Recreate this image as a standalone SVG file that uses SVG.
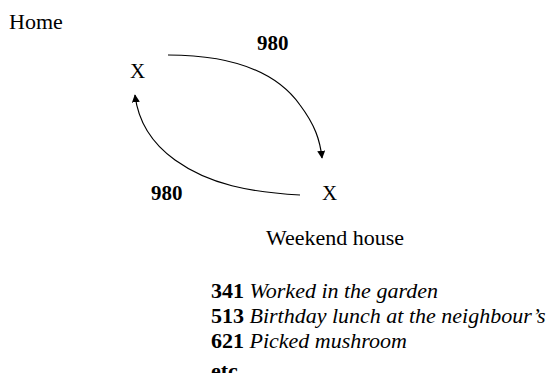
<svg xmlns="http://www.w3.org/2000/svg" width="551" height="373" viewBox="0 0 551 373">
<style>
text{font-family:"Liberation Serif","Times New Roman",serif;font-size:22px;fill:#000}
.b{font-weight:bold}
.i{font-style:italic}
.n{font-size:21px}
.c{fill:none;stroke:#000;stroke-width:1.2}
</style>
<defs>
<marker id="ah" viewBox="0 0 10 10" refX="9" refY="5" markerWidth="8" markerHeight="8" markerUnits="userSpaceOnUse" orient="auto">
<path d="M0,0 L10,5 L0,10 Z" fill="#000"/>
</marker>
</defs>
<rect width="551" height="373" fill="#fff"/>
<g id="home-label"><text x="9" y="29">Home</text></g>
<g id="home"><text class="n" x="130" y="78">X</text></g>
<g id="weekend"><text class="n" x="322" y="200">X</text></g>
<g id="weekend-label"><text x="266" y="245">Weekend house</text></g>
<g id="connectors">
<path class="c" d="M168,55 C230,55 275,70 300,105 C315,125 320,140 322,158" marker-end="url(#ah)"/>
<path class="c" d="M300,195 C250,192 210,185 175,160 C150,142 138,120 135,95" marker-end="url(#ah)"/>
<text class="b n" x="257" y="50">980</text>
<text class="b n" x="151" y="200">980</text>
</g>
<g id="list">
<text x="211" y="298"><tspan class="b">341</tspan> <tspan class="i">Worked in the garden</tspan></text>
<text x="211" y="323"><tspan class="b">513</tspan> <tspan class="i">Birthday lunch at the neighbour’s</tspan></text>
<text x="211" y="348"><tspan class="b">621</tspan> <tspan class="i">Picked mushroom</tspan></text>
<text class="b" x="211" y="378">etc</text>
</g>
</svg>
